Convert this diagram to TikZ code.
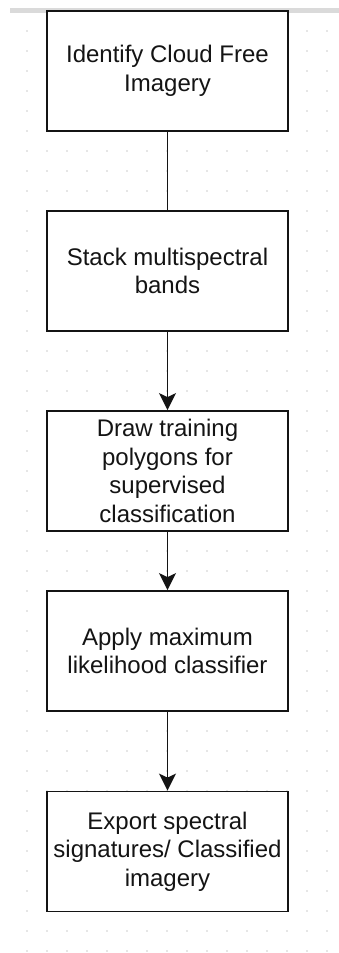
\documentclass[tikz,border=0pt]{standalone}
\usepackage{fontspec}
\setmainfont{Liberation Sans}
\definecolor{fcgrid}{RGB}{205,205,205}
\definecolor{fcrule}{RGB}{218,218,218}
\definecolor{fcline}{RGB}{20,20,20}
\usetikzlibrary{arrows.meta,positioning}

\begin{document}
\begin{tikzpicture}[x=1pt,y=-1pt,
  fcstep/.style={draw=fcline,line width=1.8pt,fill=white,minimum width=241pt,minimum height=120pt,
    inner sep=0pt,align=center,text=fcline,font=\fontsize{24}{28.5}\selectfont},
  fcarr/.style={-{Stealth[length=17pt,width=17pt,inset=4pt]},line width=1.6pt,fcline},
  fcplain/.style={line width=1.6pt,fcline}
]
  \useasboundingbox (0,0) rectangle (339,953);
  \fill[white] (0,0) rectangle (339,953);

  % Canvas grid and top rule
  \foreach \gx in {27,47,...,327}
    \foreach \gy in {31,51,...,951}
      \fill[fcgrid] (\gx,\gy) circle (0.8);
  \fill[fcrule] (10,8) rectangle (339,12.5);

  % Steps
  \node[fcstep] (imagery) at (167.5,71) {Identify Cloud Free\\Imagery};
  \node[fcstep] (stack) at (167.5,271) {Stack multispectral\\bands};
  \node[fcstep] (train) at (167.5,471) {Draw training\\polygons for\\supervised\\classification};
  \node[fcstep] (mlc) at (167.5,651) {Apply maximum\\likelihood classifier};
  \node[fcstep] (export) at (167.5,851.5) {Export spectral\\signatures/ Classified\\imagery};

  % Connectors
  \draw[fcplain] (imagery.south) -- (stack.north);
  \draw[fcarr] (stack.south) -- (train.north);
  \draw[fcarr] (train.south) -- (mlc.north);
  \draw[fcarr] (mlc.south) -- (export.north);
\end{tikzpicture}
\end{document}
